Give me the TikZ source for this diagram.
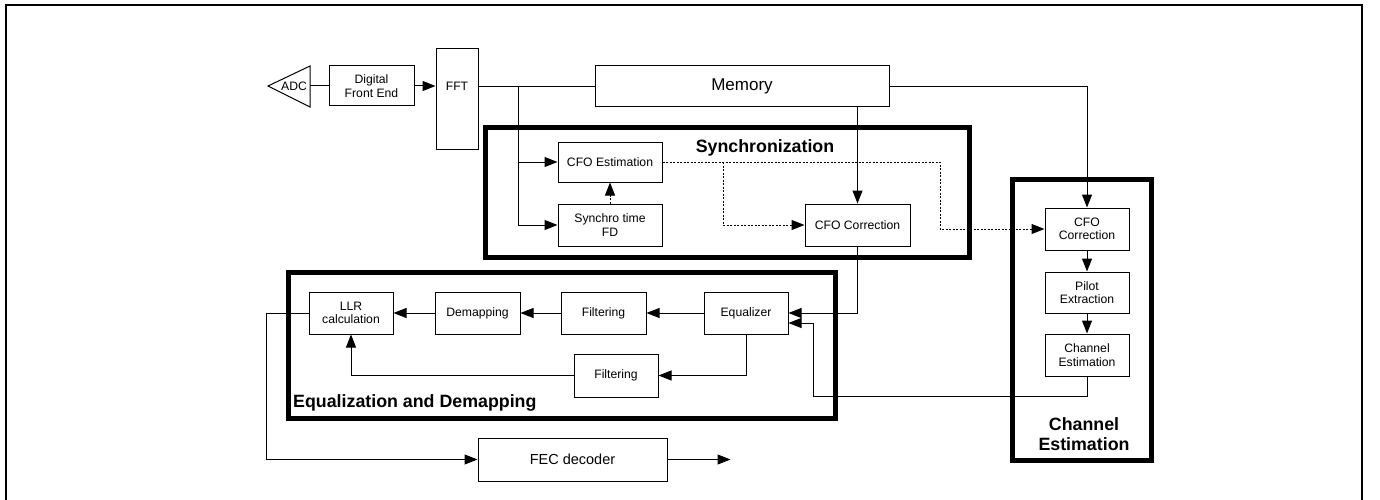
\documentclass[tikz,border=0pt]{standalone}
\usepackage{fontspec}
\setmainfont{Liberation Sans}
\usetikzlibrary{arrows.meta}

\tikzset{
  blk/.style={draw, line width=1pt, align=center, inner sep=0pt,
    font=\fontsize{12.2}{13.5}\selectfont},
  grp/.style={draw, line width=5pt},
  grplbl/.style={font=\bfseries\fontsize{17.8}{19.5}\selectfont, align=center, inner sep=0pt},
  flow/.style={line width=1pt, -{Triangle[length=13pt,width=10pt]}},
  plain/.style={line width=1pt},
  ctl/.style={flow, dash pattern=on 2pt off 1.5pt},
}

\begin{document}
\begin{tikzpicture}[x=1pt,y=-1pt]
  \useasboundingbox (0,0) rectangle (1380,500);
  % frame
  \draw[line width=2pt] (6,500) -- (6,5) -- (1362,5) -- (1362,500);

  % group boxes
  \draw[grp] (485,127.5) rectangle (969,257);
  \node[grplbl] (synclbl) at (765,148) {Synchronization};
  \draw[grp] (288,272) rectangle (835,418);
  \node[grplbl, anchor=west] (eqlbl) at (293,403) {Equalization and Demapping};
  \draw[grp] (1012,179) rectangle (1151,460);
  \node[grplbl] (celbl) at (1084,434) {Channel\\Estimation};

  % front end
  \draw[plain] (268,86) -- (310,66) -- (310,107) -- cycle;
  \node[font=\fontsize{12.2}{13.5}\selectfont, inner sep=0pt] (adc) at (294,86) {ADC};
  \coordinate (adcout) at (310,86);
  \node[blk, minimum width=85, minimum height=40] (dfe) at (371.5,86) {Digital\\Front End};
  \node[blk, minimum width=42, minimum height=101, anchor=north] (fft) at (457,48) {};
  \node[font=\fontsize{12.2}{13.5}\selectfont, inner sep=0pt] (fftlbl) at (457,86) {FFT};
  \node[blk, minimum width=294, minimum height=41, font=\fontsize{17}{19}\selectfont] (mem) at (742,86.5) {Memory};

  % synchronization
  \node[blk, minimum width=104, minimum height=40] (cfoest) at (610,162) {CFO Estimation};
  \node[blk, minimum width=104, minimum height=42] (synfd) at (610,225) {Synchro time\\FD};
  \node[blk, minimum width=105, minimum height=42] (cfocor) at (857.5,225) {CFO Correction};

  % equalization and demapping
  \node[blk, minimum width=84, minimum height=42] (llr) at (351,313) {LLR\\calculation};
  \node[blk, minimum width=85, minimum height=42] (demap) at (477.5,313) {Demapping};
  \node[blk, minimum width=85, minimum height=42] (filt1) at (603.5,313) {Filtering};
  \node[blk, minimum width=84, minimum height=42] (equ) at (746,313) {Equalizer};
  \node[blk, minimum width=84, minimum height=43] (filt2) at (616,375.5) {Filtering};

  % channel estimation
  \node[blk, minimum width=84, minimum height=42] (cfocor2) at (1087,229) {CFO\\Correction};
  \node[blk, minimum width=84, minimum height=41] (pilot) at (1087,292.5) {Pilot\\Extraction};
  \node[blk, minimum width=84, minimum height=42] (chest) at (1087,355) {Channel\\Estimation};

  % decoder
  \node[blk, minimum width=189, minimum height=43, font=\fontsize{14.5}{16}\selectfont] (fec) at (572.5,459.5) {FEC decoder};

  % connections
  \coordinate (br) at (518,86.5);
  \coordinate (dsplit) at (723,162);
  \coordinate (droute) at (940,162);
  \coordinate (ceret) at (813,396);

  \draw[plain] (adcout) -- (dfe.west);
  \draw[flow] (dfe.east) -- (dfe.east -| fft.west);
  \draw[plain] (fft.east |- mem.west) -- (mem.west);
  \draw[flow] (br) |- (cfoest.west);
  \draw[flow] (br) |- (synfd.west);
  \draw[flow] (mem.east) -| (cfocor2.north);
  \draw[flow] (cfocor.north |- mem.south) -- (cfocor.north);
  \draw[ctl] (synfd.north) -- (cfoest.south);
  \draw[ctl] (cfoest.east) -- (droute) |- (cfocor2.west);
  \draw[ctl] (dsplit) |- (cfocor.west);
  \draw[flow] (cfocor.south) |- (equ.east);
  \draw[flow] (cfocor2.south) -- (pilot.north);
  \draw[flow] (pilot.south) -- (chest.north);
  \draw[flow] (chest.south) |- (ceret) |- ([yshift=-10pt]equ.east);
  \draw[flow] (equ.west) -- (filt1.east);
  \draw[flow] (filt1.west) -- (demap.east);
  \draw[flow] (demap.west) -- (llr.east);
  \draw[flow] (equ.south) |- (filt2.east);
  \draw[flow] (filt2.west) -| (llr.south);
  \draw[flow] (llr.west) -- ++(-42,0) |- (fec.west);
  \draw[flow] (fec.east) -- ++(63,0);
\end{tikzpicture}
\end{document}
